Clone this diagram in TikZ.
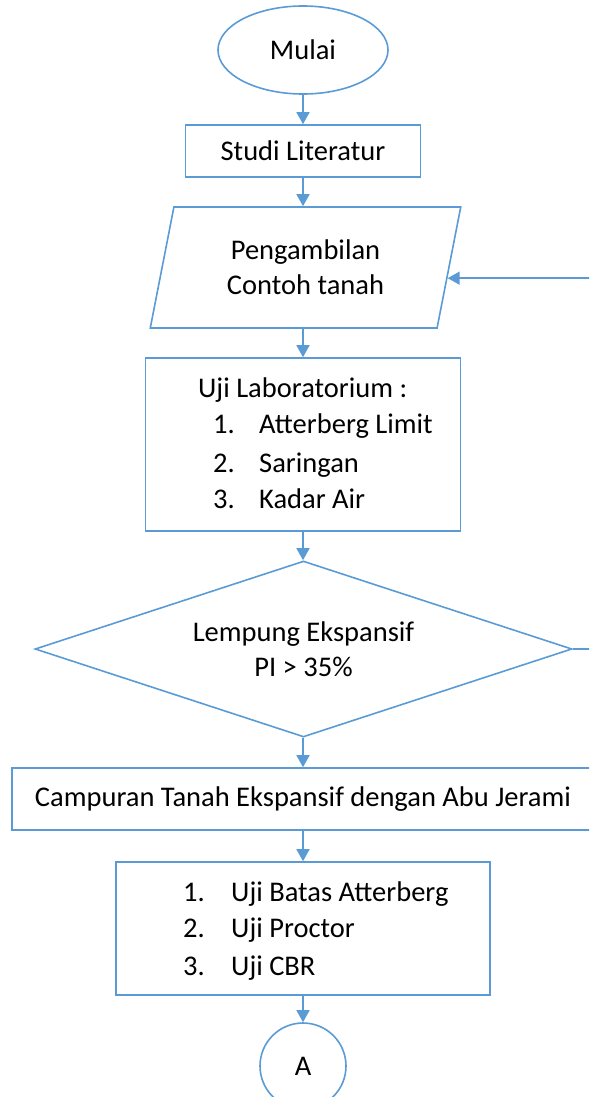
\documentclass[tikz,border=0pt]{standalone}
\usepackage{fontspec}
\setmainfont{Carlito}
\usetikzlibrary{shapes.geometric,arrows.meta,calc}
\definecolor{ln}{HTML}{5B9BD5}
\begin{document}
\begin{tikzpicture}[x=1pt,y=-1pt,
  every node/.style={font=\fontsize{28.5}{35}\selectfont, text=black},
  shp/.style={draw=ln, line width=1.6pt, inner sep=0pt},
  box/.style={shp, rectangle},
  arr/.style={draw=ln, line width=1.6pt, -{Triangle[width=13pt,length=12pt]}},
  lbl/.style={anchor=base west, inner sep=0pt}]
\useasboundingbox (0,0) rectangle (589,1097);
\clip (0,0) rectangle (589,1097);
% shapes
\node[shp, ellipse, minimum width=170pt, minimum height=88pt] (start) at (303,50) {Mulai};
\node[box, minimum width=235pt, minimum height=52pt] (studi) at (303,151) {Studi Literatur};
\node[shp, trapezium, trapezium stretches=true, trapezium left angle=75.6, trapezium right angle=104.4,
      minimum width=311pt, minimum height=121pt, align=center] (ambil) at (305.5,267.5) {Pengambilan\\Contoh tanah};
\coordinate (fb) at ($(ambil.top right corner)!0.587!(ambil.bottom right corner)$);
\node[box, minimum width=315pt, minimum height=173pt] (lab) at (303,444.5) {};
\node[lbl] (labt) at (198,397) {Uji Laboratorium :};
\node[lbl] (ln1) at (213,433) {1.};
\node[lbl] (li1) at (259,433) {Atterberg Limit};
\node[lbl] (ln2) at (213,472) {2.};
\node[lbl] (li2) at (259,472) {Saringan};
\node[lbl] (ln3) at (213,508) {3.};
\node[lbl] (li3) at (259,508) {Kadar Air};
\node[shp, diamond, shape aspect=3.05, minimum width=537pt, minimum height=176pt, align=center] (dec) at (303.5,649) {Lempung Ekspansif\\PI > 35\%};
\node[box, minimum width=582pt, minimum height=62pt] (mix) at (303,799) {Campuran Tanah Ekspansif dengan Abu Jerami};
\node[box, minimum width=374pt, minimum height=133pt] (uji) at (303,928.5) {};
\node[lbl] (un1) at (183,901) {1.};
\node[lbl] (ui1) at (231,901) {Uji Batas Atterberg};
\node[lbl] (un2) at (183,937) {2.};
\node[lbl] (ui2) at (231,937) {Uji Proctor};
\node[lbl] (un3) at (183,975) {3.};
\node[lbl] (ui3) at (231,975) {Uji CBR};
\node[shp, circle, minimum size=86pt] (A) at (303,1066) {A};
% connectors
\draw[arr] (start.south) -- (start.south |- studi.north);
\draw[arr] (studi.south) -- (studi.south |- ambil.north);
\draw[arr] (lab.north |- ambil.south) -- (lab.north);
\draw[arr] (lab.south) -- (lab.south |- dec.north);
\draw[arr] (mix.north |- dec.south) -- (mix.north);
\draw[arr] (mix.south) -- (uji.north);
\draw[arr] (uji.south) -- (A.north);
\draw[arr] (dec.east) -- ++(40,0) |- (fb);
\end{tikzpicture}
\end{document}
